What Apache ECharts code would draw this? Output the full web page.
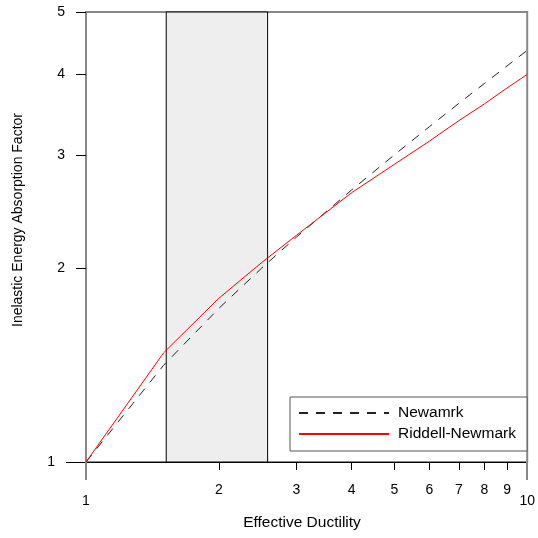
<!DOCTYPE html>
<html>
<head>
<meta charset="utf-8">
<script src="https://cdn.jsdelivr.net/npm/echarts@6/dist/echarts.min.js"></script>
<style>
html,body{margin:0;padding:0;background:#fff;}
#chart{width:538px;height:538px;}
</style>
</head>
<body>
<div id="chart"></div>
<script>
// ---- data ----
const ductility = [1, 1.5, 2, 2.5, 3, 4, 5, 6, 7, 8, 9, 10];
const newmark   = [1, 1.414, 1.732, 2.0, 2.236, 2.646, 3.0, 3.317, 3.606, 3.873, 4.123, 4.359];
const riddell   = [1, 1.478, 1.796, 2.04, 2.25, 2.62, 2.90, 3.15, 3.39, 3.60, 3.81, 4.0];
const bandRange = [1.52, 2.58];
const xMinorTicks = [2, 3, 4, 5, 6, 7, 8, 9];
const xMajorTicks = [1, 10];
const yTicks = [2, 3, 4, 5];
const yMajorTicks = [1];
const seriesNames = ['Newamrk', 'Riddell-Newmark'];
const xTitle = 'Effective Ductility';
const yTitle = 'Inelastic Energy Absorption Factor';

const FONT = 'Liberation Sans, Arial, sans-serif';
const chart = echarts.init(document.getElementById('chart'), null, {renderer: 'canvas'});

function pairs(xs, ys) { return xs.map((x, i) => [x, ys[i]]); }

const option = {
  animation: false,
  backgroundColor: '#fff',
  grid: {left: 86, right: 10, top: 12, bottom: 76, show: true, borderColor: '#888', borderWidth: 2, backgroundColor: 'transparent'},
  xAxis: [
    {
      type: 'log', logBase: 10, min: 1, max: 10, gridIndex: 0, position: 'bottom',
      axisLine: {show: true, lineStyle: {color: '#000', width: 1}},
      axisTick: {show: true, customValues: xMinorTicks, length: 8, lineStyle: {color: '#000', width: 1}},
      axisLabel: {show: true, customValues: xMinorTicks, margin: 21, color: '#000', fontSize: 14, fontFamily: FONT},
      splitLine: {show: false}, minorTick: {show: false}
    },
    {
      type: 'log', logBase: 10, min: 1, max: 10, gridIndex: 0, position: 'bottom',
      axisLine: {show: false},
      axisTick: {show: true, customValues: xMajorTicks, length: 18, lineStyle: {color: '#888', width: 2}},
      axisLabel: {show: true, customValues: xMajorTicks, margin: 32, color: '#000', fontSize: 14, fontFamily: FONT},
      splitLine: {show: false}
    }
  ],
  yAxis: [
    {
      type: 'log', logBase: 10, min: 1, max: 5, gridIndex: 0, position: 'left',
      axisLine: {show: true, lineStyle: {color: '#888', width: 2}},
      axisTick: {show: true, customValues: yTicks, length: 10, lineStyle: {color: '#000', width: 1}},
      axisLabel: {show: true, customValues: yTicks, margin: 21, color: '#000', fontSize: 14, fontFamily: FONT},
      splitLine: {show: false}
    },
    {
      type: 'log', logBase: 10, min: 1, max: 5, gridIndex: 0, position: 'left',
      axisLine: {show: false},
      axisTick: {show: true, customValues: yMajorTicks, length: 20, lineStyle: {color: '#000', width: 1}},
      axisLabel: {show: true, customValues: yMajorTicks, margin: 31, color: '#000', fontSize: 14, fontFamily: FONT},
      splitLine: {show: false}
    }
  ],
  legend: {
    orient: 'vertical', left: 290, top: 397,
    padding: [8, 11, 9, 8], itemGap: 5, itemWidth: 90, itemHeight: 14,
    backgroundColor: '#fff', borderColor: '#555', borderWidth: 1, borderRadius: 0,
    itemStyle: {opacity: 0, borderWidth: 0},
    textStyle: {color: '#000', fontSize: 15.5, fontFamily: FONT, padding: [0, 0, 0, 4]},
    data: seriesNames
  },
  graphic: [
    {type: 'text', x: 302, y: 523, style: {text: xTitle, fill: '#000', font: '15.5px ' + FONT, align: 'center', verticalAlign: 'middle'}},
    {type: 'text', x: 11, y: 220, rotation: Math.PI / 2, style: {text: yTitle, fill: '#000', font: '14px ' + FONT, align: 'center', verticalAlign: 'top'}}
  ],
  series: [
    {
      name: 'band', type: 'line', data: [], xAxisIndex: 0, yAxisIndex: 0, silent: true,
      markArea: {
        silent: true,
        itemStyle: {color: '#eeeeee', borderColor: '#000', borderWidth: 1},
        data: [[{xAxis: bandRange[0]}, {xAxis: bandRange[1]}]]
      },
      z: 1
    },
    {
      name: seriesNames[0], type: 'line', data: pairs(ductility, newmark), xAxisIndex: 0, yAxisIndex: 0,
      symbol: 'none', smooth: false,
      lineStyle: {color: '#222', width: 1, type: [9, 8]}, itemStyle: {color: '#222'}, z: 3
    },
    {
      name: seriesNames[1], type: 'line', data: pairs(ductility, riddell), xAxisIndex: 0, yAxisIndex: 0,
      symbol: 'none', smooth: false,
      lineStyle: {color: '#ff0000', width: 1}, itemStyle: {color: '#ff0000'}, z: 4
    }
  ]
};
chart.setOption(option);
</script>
</body>
</html>
